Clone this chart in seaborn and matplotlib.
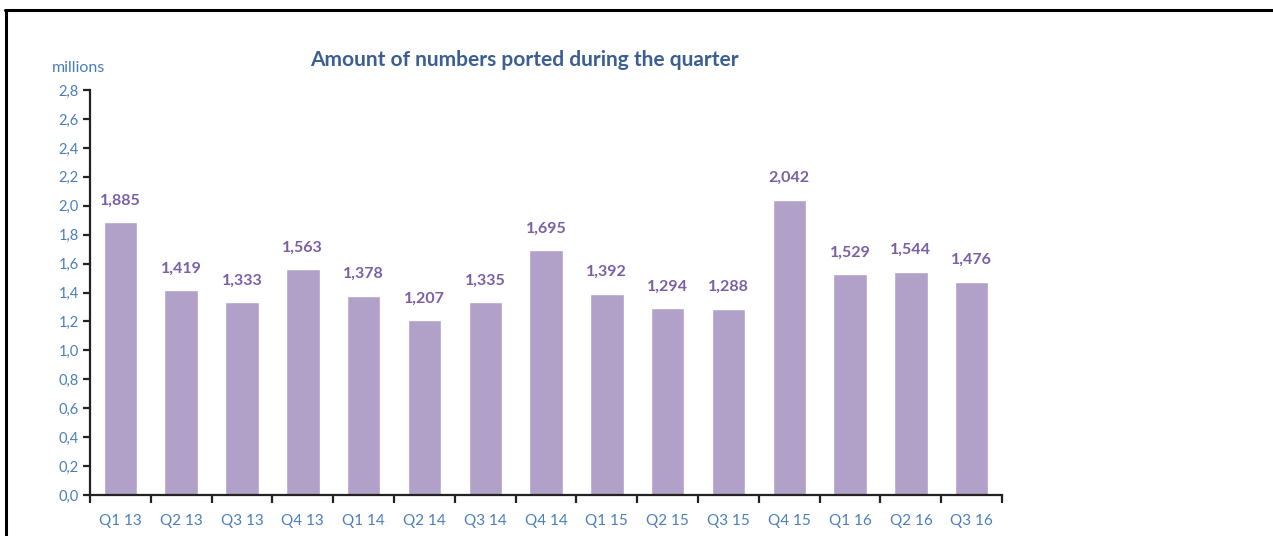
import matplotlib
matplotlib.use("Agg")
import matplotlib.pyplot as plt
from matplotlib.lines import Line2D
import seaborn as sns
import pandas as pd

quarters = ["Q1 13", "Q2 13", "Q3 13", "Q4 13", "Q1 14", "Q2 14", "Q3 14", "Q4 14",
            "Q1 15", "Q2 15", "Q3 15", "Q4 15", "Q1 16", "Q2 16", "Q3 16"]
ported = [1.885, 1.419, 1.333, 1.563, 1.378, 1.207, 1.335, 1.695,
          1.392, 1.294, 1.288, 2.042, 1.529, 1.544, 1.476]
y_ticks = [0.0, 0.2, 0.4, 0.6, 0.8, 1.0, 1.2, 1.4, 1.6, 1.8, 2.0, 2.2, 2.4, 2.6, 2.8]

sns.set_theme(style="white")
plt.rcParams["font.family"] = ["Lato", "DejaVu Sans"]

BAR = "#b1a0c7"
LABEL = "#7a5fa5"
TICK = "#4a7ebb"
TITLE = "#3b5f92"

df = pd.DataFrame({"quarter": quarters, "ported": ported})

fig = plt.figure(figsize=(12.73, 5.36), dpi=100)
ax = fig.add_axes([0.0707, 0.0765, 0.7165, 0.7555])

sns.barplot(data=df, x="quarter", y="ported", color=BAR, saturation=1,
            width=0.55, ax=ax)

ax.set_xlim(-0.5, len(quarters) - 0.5)
ax.set_ylim(0, 2.8)
ax.set_yticks(y_ticks)
ax.set_yticklabels([f"{v:.1f}".replace(".", ",") for v in y_ticks])
ax.set_xlabel("")
ax.set_ylabel("")

for sp in ["top", "right"]:
    ax.spines[sp].set_visible(False)
for sp in ["left", "bottom"]:
    ax.spines[sp].set_color("#222222")
    ax.spines[sp].set_linewidth(1.6)

# category labels centered, tick marks between categories
ax.set_xticks(range(len(quarters)))
ax.set_xticklabels(quarters)
ax.set_xticks([i - 0.5 for i in range(len(quarters) + 1)], minor=True)
ax.tick_params(axis="x", which="major", length=0, pad=14, labelsize=11, labelcolor=TICK)
ax.tick_params(axis="x", which="minor", bottom=True, length=6, width=1.6,
               color="#222222", direction="out")
ax.tick_params(axis="y", length=5, width=1.6, color="#222222", direction="out",
               labelsize=10.5, labelcolor=TICK, pad=3, left=True)

for i, v in enumerate(ported):
    ax.text(i, v + 0.1, f"{v:.3f}".replace(".", ","), ha="center", va="bottom",
            fontsize=11.5, fontweight="bold", color=LABEL)

fig.text(0.412, 0.888, "Amount of numbers ported during the quarter", ha="center",
         va="center", fontsize=15, fontweight="bold", color=TITLE)
fig.text(0.041, 0.874, "millions", ha="left", va="center", fontsize=11.5, color=TICK)

# frame around the panel
fig.add_artist(Line2D([0.004, 1.0], [0.981, 0.981], color="black", linewidth=2.2,
                      transform=fig.transFigure))
fig.add_artist(Line2D([0.0045, 0.0045], [0.0, 0.981], color="black", linewidth=2.2,
                      transform=fig.transFigure))

fig.savefig("out.png", dpi=100)
